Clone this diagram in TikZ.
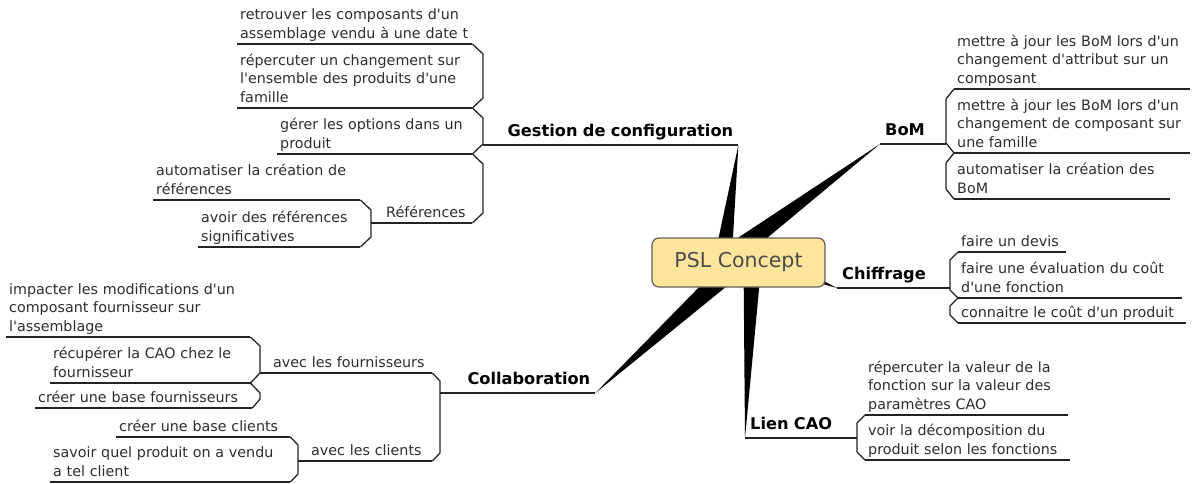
\documentclass[tikz,border=0pt]{standalone}
\usepackage{fontspec}
\setmainfont{DejaVu Sans}[Ligatures=TeXOff]
\usetikzlibrary{calc, backgrounds}

\definecolor{rootfill}{RGB}{255, 228, 155}
\definecolor{rootline}{RGB}{95, 95, 95}
\definecolor{roottext}{RGB}{75, 75, 75}
\definecolor{txt}{RGB}{45, 45, 45}
\definecolor{ln}{RGB}{35, 35, 35}

\newcommand\leaffont{\fontsize{14.3}{18.5}\selectfont}
\newcommand\topicfont{\fontsize{16.2}{20}\selectfont\bfseries}
\newcommand\rootfont{\fontsize{20.5}{24}\selectfont}

\begin{document}
\begin{tikzpicture}[x=1pt, y=-1pt,
    line/.style={draw=ln, line width=1.3pt},
    link/.style={draw=ln, line width=2.8pt},
    wedge/.style={fill=black},
    root/.style={draw=rootline, fill=rootfill, rounded corners=7pt, line width=1.2pt, minimum width=173pt, minimum height=49pt, font=\rootfont, text=roottext},
    topic/.style={anchor=south west, inner xsep=5pt, inner ysep=2pt, font=\topicfont, text=black, execute at end node=\strut, append after command={(\tikzlastnode.south west) edge[line] (\tikzlastnode.south east)}},
    leaf/.style={anchor=south west, align=left, inner xsep=3pt, inner ysep=0pt, font=\leaffont, text=txt, execute at end node=\strut, append after command={(\tikzlastnode.south west) edge[line] (\tikzlastnode.south east)}}]
    \useasboundingbox (0,0) rectangle (1192,484);

    % centre
    \node[root] (psl) at (738.5,262.5) {PSL Concept};

    % Gestion de configuration
    \node[topic, align=right, text width=231pt] (gest) at (497,145) {Gestion de configuration};
    \node[leaf, text width=229pt] (g1) at (237,44) {retrouver les composants d'un\\assemblage vendu à une date t};
    \node[leaf, text width=229pt] (g2) at (237,108) {répercuter un changement sur\\l'ensemble des produits d'une\\famille};
    \node[leaf, text width=189pt] (g3) at (277,154) {gérer les options dans un\\produit};
    \node[leaf, text width=83pt] (gref) at (383,223) {Références};
    \node[leaf, text width=201pt] (r1) at (153,200) {automatiser la création de\\références};
    \node[leaf, text width=156pt] (r2) at (198,247) {avoir des références\\significatives};

    \draw[line] (g1.south east) -- (483,54) -- (483,98) -- (g2.south east) -- (483,118) -- (483,144) -- (g3.south east) -- (483,164) -- (483,213) -- (gref.south east);
    \draw[link] (483,145) -- (gest.south west);
    \draw[line] (r1.south east) -- (371,210) -- (371,237) -- (r2.south east);
    \draw[link] (371,223) -- (gref.south west);

    % BoM
    \node[topic, align=left, text width=46pt] (bom) at (880,144) {BoM};
    \node[leaf, text width=230pt] (b1) at (954,89) {mettre à jour les BoM lors d'un\\changement d'attribut sur un\\composant};
    \node[leaf, text width=230pt] (b2) at (954,153) {mettre à jour les BoM lors d'un\\changement de composant sur\\une famille};
    \node[leaf, text width=210pt] (b3) at (954,199) {automatiser la création des\\BoM};

    \draw[line] (b1.south west) -- (946,99) -- (946,143) -- (b2.south west) -- (946,163) -- (946,189) -- (b3.south west);
    \draw[link] (bom.south east) -- (946,144);

    % Chiffrage
    \node[topic, align=left, text width=93pt] (chif) at (837,288) {Chiffrage};
    \node[leaf, text width=102pt] (c1) at (958,252) {faire un devis};
    \node[leaf, text width=218pt] (c2) at (958,298) {faire une évaluation du coût\\d'une fonction};
    \node[leaf, text width=222pt] (c3) at (958,323) {connaitre le coût d'un produit};

    \draw[line] (c1.south west) -- (950,260) -- (950,290) -- (c2.south west) -- (950,306) -- (950,315) -- (c3.south west);
    \draw[link] (chif.south east) -- (950,288);

    % Lien CAO
    \node[topic, align=left, text width=93pt] (lien) at (745,438) {Lien CAO};
    \node[leaf, text width=197pt] (l1) at (865,415) {répercuter la valeur de la\\fonction sur la valeur des\\paramètres CAO};
    \node[leaf, text width=199pt] (l2) at (865,460) {voir la décomposition du\\produit selon les fonctions};

    \draw[line] (l1.south west) -- (857,423) -- (857,452) -- (l2.south west);
    \draw[link] (lien.south east) -- (857,438);

    % Collaboration
    \node[topic, align=right, text width=135pt] (collab) at (450,393) {Collaboration};
    \node[leaf, text width=156pt] (fourn) at (270,373) {avec les fournisseurs};
    \node[leaf, text width=118pt] (clients) at (308,461) {avec les clients};
    \node[leaf, text width=238pt] (f1) at (6,337) {impacter les modifications d'un\\composant fournisseur sur\\l'assemblage};
    \node[leaf, text width=194pt] (f2) at (50,383) {récupérer la CAO chez le\\fournisseur};
    \node[leaf, text width=211pt] (f3) at (35,408) {créer une base fournisseurs};
    \node[leaf, text width=168pt] (k1) at (116,437) {créer une base clients};
    \node[leaf, text width=234pt] (k2) at (50,482) {savoir quel produit on a vendu\\a tel client};

    \draw[line] (fourn.south east) -- (440,381) -- (440,453) -- (clients.south east);
    \draw[link] (440,393) -- (collab.south west);
    \draw[line] (f1.south east) -- (260,346) -- (260,373) -- (f2.south east) -- (260,393) -- (260,399) -- (f3.south east);
    \draw[link] (260,373) -- (fourn.south west);
    \draw[line] (k1.south east) -- (298,445) -- (298,474) -- (k2.south east);
    \draw[link] (298,461) -- (clients.south west);

    % branches behind the centre
    \begin{pgfonlayer}{background}
        \coordinate (bg) at ($(psl.center)+(-16,0)$);
        \coordinate (bb) at ($(psl.center)+(-18,0)$);
        \coordinate (bc) at (psl.center);
        \coordinate (bl) at ($(psl.center)+(14,0)$);
        \coordinate (bf) at ($(psl.center)+(67,13)$);
        \fill[wedge] (gest.south east) -- ($(bg)!9pt!90:(gest.south east)$) -- ($(bg)!9pt!-90:(gest.south east)$) -- cycle;
        \fill[wedge] (bom.south west) -- ($(bb)!11pt!90:(bom.south west)$) -- ($(bb)!11pt!-90:(bom.south west)$) -- cycle;
        \fill[wedge] (collab.south east) -- ($(bc)!11pt!90:(collab.south east)$) -- ($(bc)!11pt!-90:(collab.south east)$) -- cycle;
        \fill[wedge] (lien.south west) -- ($(bl)!9pt!90:(lien.south west)$) -- ($(bl)!9pt!-90:(lien.south west)$) -- cycle;
        \fill[wedge] (chif.south west) -- ($(bf)!3.5pt!90:(chif.south west)$) -- ($(bf)!3.5pt!-90:(chif.south west)$) -- cycle;
    \end{pgfonlayer}
\end{tikzpicture}
\end{document}
